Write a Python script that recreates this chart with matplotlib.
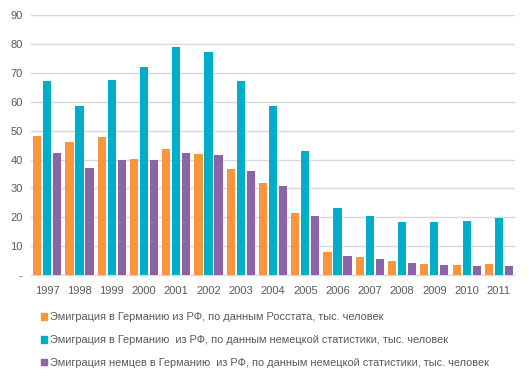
import numpy as np
import matplotlib.pyplot as plt
from matplotlib.patches import Patch

years = ["1997", "1998", "1999", "2000", "2001", "2002", "2003", "2004",
         "2005", "2006", "2007", "2008", "2009", "2010", "2011"]
rosstat = [48.1, 46.0, 47.9, 40.1, 43.6, 41.9, 36.7, 31.8, 21.5, 8.0, 6.2, 4.8, 3.8, 3.5, 3.8]
german_stat = [67.1, 58.5, 67.5, 72.0, 78.9, 77.2, 67.1, 58.5, 42.9, 23.2, 20.4, 18.3, 18.3, 18.7, 19.7]
germans_only = [42.2, 37.0, 39.8, 39.8, 42.2, 41.5, 36.0, 30.8, 20.4, 6.6, 5.5, 4.2, 3.5, 3.1, 3.1]

labels = ["Эмиграция в Германию из РФ, по данным Росстата, тыс. человек",
          "Эмиграция в Германию  из РФ, по данным немецкой статистики, тыс. человек",
          "Эмиграция немцев в Германию  из РФ, по данным немецкой статистики, тыс. человек"]
colors = ["#F9963B", "#00AEC7", "#8A64A6"]

plt.rcParams['font.family'] = ['Liberation Sans', 'DejaVu Sans']
txt = "#595959"

fig = plt.figure(figsize=(5.29, 3.8), dpi=100)
ax = fig.add_axes([0.0586, 0.276, 0.915, 0.6845])

x = np.arange(len(years))
w = 0.255
step = 0.31
for i, vals in enumerate([rosstat, german_stat, germans_only]):
    ax.bar(x + (i - 1) * step, vals, width=w, color=colors[i], zorder=3)

ax.set_xlim(-0.5, len(years) - 0.5)
ax.set_ylim(0, 90)
ax.set_yticks(range(0, 91, 10))
ax.set_yticklabels(["-"] + [str(v) for v in range(10, 91, 10)])
ax.set_xticks(x)
ax.set_xticklabels(years)
ax.tick_params(axis='both', length=0, labelsize=8, colors=txt)
ax.tick_params(axis='x', pad=8)
ax.tick_params(axis='y', pad=6)
ax.grid(axis='y', color="#D9D9D9", linewidth=1, zorder=0)
for s in ["top", "right", "left"]:
    ax.spines[s].set_visible(False)
ax.spines["bottom"].set_color("#D9D9D9")

handles = [Patch(color=c) for c in colors]
fig.legend(handles, labels, loc="upper left", bbox_to_anchor=(0.077, 0.178),
           frameon=False, fontsize=7.9, labelcolor=txt, handlelength=0.55,
           handleheight=0.55, handletextpad=0.3, labelspacing=1.17,
           borderpad=0, borderaxespad=0)

fig.savefig("out.png", dpi=100)
